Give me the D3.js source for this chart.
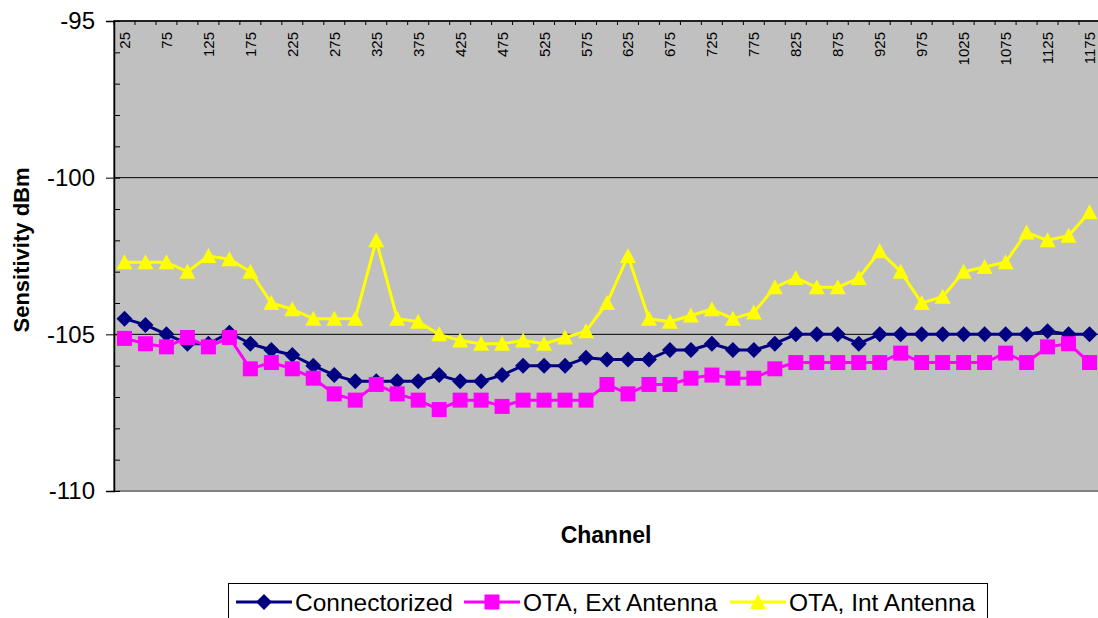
<!DOCTYPE html>
<html>
<head>
<meta charset="utf-8">
<script src="https://cdn.jsdelivr.net/npm/d3@7"></script>
<style>
  html, body { margin: 0; padding: 0; background: #fff; overflow: hidden; }
  svg { display: block; font-family: "Liberation Sans", Arial, sans-serif; }
</style>
</head>
<body>
<svg id="chart" width="1098" height="618"></svg>
<script>
// ---- data ----
const channels = [25, 50, 75, 100, 125, 150, 175, 200, 225, 250, 275, 300, 325, 350, 375, 400,
  425, 450, 475, 500, 525, 550, 575, 600, 625, 650, 675, 700, 725, 750, 775, 800,
  825, 850, 875, 900, 925, 950, 975, 1000, 1025, 1050, 1075, 1100, 1125, 1150, 1175];

const connectorized = [-104.5, -104.7, -105.0, -105.3, -105.3, -104.95, -105.3, -105.5, -105.66, -106.0,
  -106.3, -106.5, -106.5, -106.5, -106.5, -106.3, -106.5, -106.5, -106.3, -106.0,
  -106.0, -106.0, -105.75, -105.8, -105.8, -105.8, -105.5, -105.5, -105.3, -105.5,
  -105.5, -105.3, -105.0, -105.0, -105.0, -105.3, -105.0, -105.0, -105.0, -105.0,
  -105.0, -105.0, -105.0, -105.0, -104.9, -105.0, -105.0];

const otaExt = [-105.13, -105.3, -105.4, -105.1, -105.4, -105.1, -106.1, -105.9, -106.1, -106.4,
  -106.9, -107.1, -106.6, -106.9, -107.1, -107.4, -107.1, -107.1, -107.3, -107.1,
  -107.1, -107.1, -107.1, -106.6, -106.9, -106.6, -106.6, -106.4, -106.3, -106.4,
  -106.4, -106.1, -105.9, -105.9, -105.9, -105.9, -105.9, -105.6, -105.9, -105.9,
  -105.9, -105.9, -105.6, -105.9, -105.4, -105.3, -105.9];

const otaInt = [-102.7, -102.7, -102.7, -103.0, -102.5, -102.6, -103.0, -104.0, -104.2, -104.5,
  -104.5, -104.5, -102.0, -104.5, -104.6, -105.0, -105.2, -105.3, -105.3, -105.2,
  -105.3, -105.1, -104.9, -104.0, -102.5, -104.5, -104.6, -104.4, -104.2, -104.5,
  -104.3, -103.5, -103.2, -103.5, -103.5, -103.2, -102.35, -103.0, -104.0, -103.8,
  -103.0, -102.85, -102.7, -101.75, -102.0, -101.85, -101.1];

const seriesNames = ["Connectorized", "OTA, Ext Antenna", "OTA, Int Antenna"];
const seriesColors = ["#000080", "#FF00FF", "#FFFF00"];
const seriesMarkers = ["diamond", "square", "triangle"];
const yMajorTicks = [-95, -100, -105, -110];
const yMinorTicks = [-95, -96, -97, -98, -99, -100, -101, -102, -103, -104, -105,
  -106, -107, -108, -109, -110];
const yGridValues = [-100, -105];

// ---- layout ----
const svg = d3.select("#chart");
const plot = { left: 114, top: 21, right: 1100, bottom: 491 };

const x = d3.scaleBand().domain(channels).range([plot.left, plot.right]).padding(0);
const y = d3.scaleLinear().domain([-110, -95]).range([plot.bottom, plot.top]);
const xc = c => x(c) + x.bandwidth() / 2;

// plot background
svg.append("rect")
  .attr("x", plot.left).attr("y", plot.top)
  .attr("width", plot.right - plot.left).attr("height", plot.bottom - plot.top)
  .attr("fill", "#C0C0C0").attr("stroke", "#808080").attr("stroke-width", 2);

// gridlines
svg.append("g").selectAll("line").data(yGridValues).join("line")
  .attr("x1", plot.left).attr("x2", plot.right)
  .attr("y1", d => y(d)).attr("y2", d => y(d))
  .attr("stroke", "#000").attr("stroke-width", 1);

// y axis: major ticks outward with labels (plain hyphen minus)
const yAxis = d3.axisLeft(y).tickValues(yMajorTicks).tickSize(8).tickPadding(11)
  .tickFormat(d => String(d));
const gy = svg.append("g").attr("transform", `translate(${plot.left},0)`).call(yAxis);
gy.select(".domain").attr("stroke", "#000").attr("stroke-width", 1.5);
gy.selectAll(".tick line").attr("stroke", "#000");
gy.selectAll(".tick text").attr("font-size", 24).attr("fill", "#000")
  .attr("font-family", "Liberation Sans, Arial, sans-serif");

// y axis minor ticks inward
const yMinor = d3.axisRight(y).tickValues(yMinorTicks).tickSize(6).tickFormat("");
const gym = svg.append("g").attr("transform", `translate(${plot.left},0)`).call(yMinor);
gym.select(".domain").remove();
gym.selectAll(".tick line").attr("stroke", "#000");

// top x axis line
svg.append("line")
  .attr("x1", plot.left).attr("x2", plot.right)
  .attr("y1", plot.top).attr("y2", plot.top)
  .attr("stroke", "#000").attr("stroke-width", 1.5);

// x ticks at category boundaries, pointing into plot
svg.append("g").selectAll("line").data(channels).join("line")
  .attr("x1", d => x(d)).attr("x2", d => x(d))
  .attr("y1", plot.top).attr("y2", plot.top + 4)
  .attr("stroke", "#000");

// x labels: every other category, rotated
svg.append("g").selectAll("text").data(channels.filter((d, i) => i % 2 === 0)).join("text")
  .attr("transform", d => `translate(${xc(d)},${plot.top + 11}) rotate(-90)`)
  .attr("text-anchor", "end")
  .attr("dominant-baseline", "central")
  .attr("font-size", 15)
  .attr("fill", "#000")
  .text(d => d);

// axis titles
svg.append("text")
  .attr("transform", `translate(29,250) rotate(-90)`)
  .attr("text-anchor", "middle")
  .attr("font-size", 22).attr("font-weight", "bold").attr("fill", "#000")
  .text("Sensitivity dBm");

svg.append("text")
  .attr("x", 606).attr("y", 543)
  .attr("text-anchor", "middle")
  .attr("font-size", 23).attr("font-weight", "bold").attr("fill", "#000")
  .text("Channel");

// markers
function markerPath(type) {
  if (type === "diamond") return "M0,-8L8,0L0,8L-8,0Z";
  if (type === "square") return "M-7.5,-7.5H7.5V7.5H-7.5Z";
  return "M0,-8L8,7L-8,7Z";
}

const allSeries = [connectorized, otaExt, otaInt];
const line = d3.line().x((d, i) => xc(channels[i])).y(d => y(d));

allSeries.forEach((vals, si) => {
  const g = svg.append("g");
  g.append("path").datum(vals)
    .attr("d", line)
    .attr("fill", "none")
    .attr("stroke", seriesColors[si])
    .attr("stroke-width", 3)
    .attr("stroke-linejoin", "round");
  g.selectAll("path.m").data(vals).join("path")
    .attr("class", "m")
    .attr("transform", (d, i) => `translate(${xc(channels[i])},${y(d)})`)
    .attr("d", markerPath(seriesMarkers[si]))
    .attr("fill", seriesColors[si]);
});

// legend
const legend = svg.append("g");
legend.append("rect")
  .attr("x", 228.5).attr("y", 583.5).attr("width", 759).attr("height", 40)
  .attr("fill", "#fff").attr("stroke", "#000").attr("stroke-width", 1);

const legendX = [236, 464, 730];
seriesNames.forEach((name, si) => {
  const lx = legendX[si];
  const ly = 602;
  legend.append("line")
    .attr("x1", lx).attr("x2", lx + 56).attr("y1", ly).attr("y2", ly)
    .attr("stroke", seriesColors[si]).attr("stroke-width", 3);
  legend.append("path")
    .attr("transform", `translate(${lx + 28},${ly})`)
    .attr("d", markerPath(seriesMarkers[si]))
    .attr("fill", seriesColors[si]);
  legend.append("text")
    .attr("x", lx + 59).attr("y", ly)
    .attr("dominant-baseline", "central")
    .attr("font-size", 24.5).attr("fill", "#000")
    .text(name);
});
</script>
</body>
</html>
